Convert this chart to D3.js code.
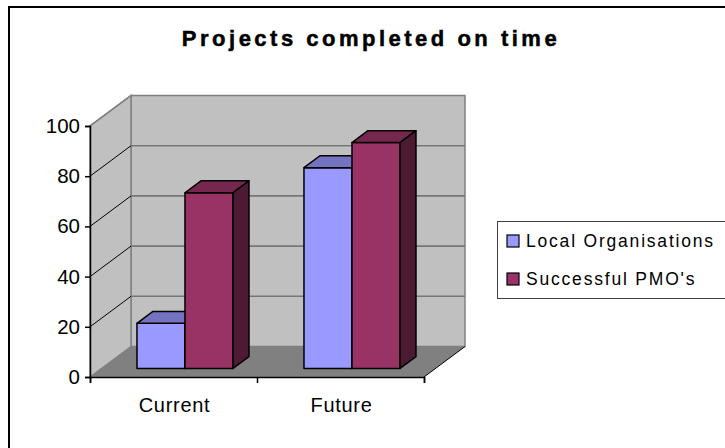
<!DOCTYPE html>
<html>
<head>
<meta charset="utf-8">
<script src="https://cdn.jsdelivr.net/npm/d3@7"></script>
<style>
  html, body { margin: 0; padding: 0; background: #fff; }
  svg { display: block; }
  text { font-family: "Liberation Sans", Arial, sans-serif; fill: #000; }
</style>
</head>
<body>
<svg id="chart" width="725" height="448"></svg>
<script>
// ---- data ----
const categories = ["Current", "Future"];
const seriesNames = ["Local Organisations", "Successful PMO's"];
const localOrganisations = [18, 80];
const successfulPMOs = [70, 90];
const yTickValues = [0, 20, 40, 60, 80, 100];
const chartTitle = "Projects completed on time";

// ---- styling ----
const faceColors = [
  { front: "#9999FF", top: "#7373C0", side: "#4D4D80" },
  { front: "#993366", top: "#75274E", side: "#4D1A33" }
];
const seriesValues = [localOrganisations, successfulPMOs];

const svg = d3.select("#chart");

// outer chart frame (runs past the right and bottom edge)
svg.append("rect")
  .attr("x", 9).attr("y", 7).attr("width", 740).attr("height", 460)
  .attr("fill", "#fff").attr("stroke", "#000").attr("stroke-width", 2);

// title
svg.append("text")
  .attr("x", 371).attr("y", 46)
  .attr("text-anchor", "middle")
  .style("font-size", "22px").style("font-weight", "bold")
  .style("letter-spacing", "3.5px")
  .attr("stroke", "#000").attr("stroke-width", 0.5)
  .text(chartTitle);

// ---- 3D plot geometry ----
const x0 = 90, x1 = 424;          // front plane horizontal extent
const depth = { dx: 41, dy: -30.5 }; // wall depth vector
const x = d3.scaleBand().domain(categories).range([x0, x1]).padding(0);
const y = d3.scaleLinear().domain([0, 100]).range([377, 126]);
const bw = x.bandwidth();
const groupW = bw * 0.575;
const xs = d3.scaleBand().domain(d3.range(seriesNames.length))
  .range([(bw - groupW) / 2, (bw + groupW) / 2]).padding(0);

const g = svg.append("g");
const pts = arr => arr.map(p => p.join(",")).join(" ");
const yb = v => y(v) + depth.dy;    // back-wall y
const xb = x0 + depth.dx;           // back-wall left x
const xr = x1 + depth.dx;           // back-wall right x

// back wall
g.append("polygon")
  .attr("points", pts([[xb, yb(100)], [xr, yb(100)], [xr, yb(0)], [xb, yb(0)]]))
  .attr("fill", "#C0C0C0").attr("stroke", "#808080").attr("stroke-width", 1.5);
// left side wall
g.append("polygon")
  .attr("points", pts([[x0, y(0)], [x0, y(100)], [xb, yb(100)], [xb, yb(0)]]))
  .attr("fill", "#C0C0C0").attr("stroke", "#808080").attr("stroke-width", 1.5);
// floor
g.append("polygon")
  .attr("points", pts([[x0, y(0)], [xb, yb(0)], [xr, yb(0)], [x1, y(0)]]))
  .attr("fill", "#808080").attr("stroke", "none");

// gridlines on back wall and left wall
yTickValues.filter(v => v > 0 && v < 100).forEach(v => {
  g.append("line")
    .attr("x1", xb).attr("x2", xr).attr("y1", yb(v)).attr("y2", yb(v))
    .attr("stroke", "#777").attr("stroke-width", 1.6);
});
yTickValues.filter(v => v > 0).forEach(v => {
  g.append("line")
    .attr("x1", x0).attr("y1", y(v)).attr("x2", xb).attr("y2", yb(v))
    .attr("stroke", v === 100 ? "#808080" : "#000").attr("stroke-width", v === 100 ? 1.5 : 1);
});

// floor edges
g.append("line").attr("x1", x1).attr("y1", y(0)).attr("x2", xr).attr("y2", yb(0))
  .attr("stroke", "#000").attr("stroke-width", 1);

// ---- bars ----
const barOff = { dx: depth.dx * 0.28, dy: depth.dy * 0.28 };
const barDepth = { dx: depth.dx * 0.39, dy: depth.dy * 0.39 };
const barData = [];
categories.forEach((c, ci) => {
  seriesNames.forEach((s, si) => {
    barData.push({ cat: c, series: si, value: seriesValues[si][ci] });
  });
});
const barG = g.append("g").attr("stroke", "#000").attr("stroke-width", 1.5)
  .attr("stroke-linejoin", "round");
barData.forEach(d => {
  const left = x(d.cat) + xs(d.series) + barOff.dx;
  const right = left + xs.bandwidth();
  const top = y(d.value) + barOff.dy;
  const bottom = y(0) + barOff.dy;
  const c = faceColors[d.series];
  barG.append("polygon")
    .attr("points", pts([[left, bottom], [left, top], [right, top], [right, bottom]]))
    .attr("fill", c.front);
  barG.append("polygon")
    .attr("points", pts([[left, top], [left + barDepth.dx, top + barDepth.dy],
      [right + barDepth.dx, top + barDepth.dy], [right, top]]))
    .attr("fill", c.top);
  barG.append("polygon")
    .attr("points", pts([[right, top], [right + barDepth.dx, top + barDepth.dy],
      [right + barDepth.dx, bottom + barDepth.dy], [right, bottom]]))
    .attr("fill", c.side);
});

// ---- axes ----
const yAxis = d3.axisLeft(y).tickValues(yTickValues).tickSize(5).tickPadding(5);
const yAxisG = svg.append("g").attr("transform", `translate(${x0},0)`).call(yAxis);
yAxisG.select(".domain").attr("stroke", "#000").attr("stroke-width", 1.5);
yAxisG.selectAll(".tick line").attr("stroke", "#000").attr("stroke-width", 1.5);
yAxisG.selectAll(".tick text")
  .style("font-size", "20.5px").attr("font-family", null).attr("fill", "#000");

const xAxis = d3.axisBottom(d3.scaleLinear().domain([0, categories.length]).range([x0, x1]))
  .tickValues(d3.range(categories.length + 1)).tickSize(6).tickFormat("");
const xAxisG = svg.append("g").attr("transform", `translate(0,${y(0)})`).call(xAxis);
xAxisG.select(".domain").attr("stroke", "#000").attr("stroke-width", 1.5);
xAxisG.selectAll(".tick line").attr("stroke", "#000").attr("stroke-width", 1.5);

svg.append("g").selectAll("text").data(categories).join("text")
  .attr("x", d => x(d) + bw / 2 + 1)
  .attr("y", 411.5)
  .attr("text-anchor", "middle")
  .style("font-size", "20px").style("letter-spacing", "0.7px")
  .text(d => d);

// ---- legend ----
const legend = svg.append("g");
legend.append("rect")
  .attr("x", 497.5).attr("y", 221.5).attr("width", 260).attr("height", 77)
  .attr("fill", "#fff").attr("stroke", "#404040").attr("stroke-width", 1);
const items = legend.selectAll("g.item").data(seriesNames).join("g")
  .attr("class", "item")
  .attr("transform", (d, i) => `translate(0,${i * 38})`);
items.append("rect")
  .attr("x", 507).attr("y", 235).attr("width", 12).attr("height", 12)
  .attr("fill", (d, i) => faceColors[i].front)
  .attr("stroke", "#000").attr("stroke-width", 1.2);
items.append("text")
  .attr("x", 526).attr("y", 246.5)
  .style("font-size", "17.5px").style("letter-spacing", "1.8px")
  .text(d => d);
</script>
</body>
</html>
